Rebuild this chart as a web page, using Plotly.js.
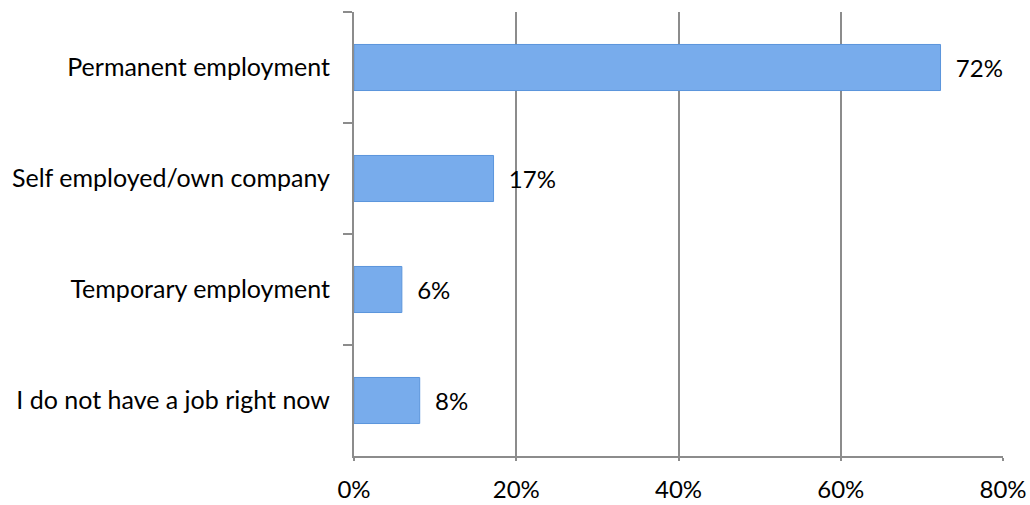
<!DOCTYPE html>
<html><head><meta charset="utf-8">
<script src="https://cdn.plot.ly/plotly-3.0.1.min.js"></script>
<style>html,body{margin:0;padding:0;background:#fff;}#chart{width:1030px;height:505px;}</style>
</head><body><div id="chart"></div>
<script>
const categories = ["Permanent employment", "Self employed/own company", "Temporary employment", "I do not have a job right now"];
const values = [0.723, 0.172, 0.059, 0.081];
const valueLabels = ["72%", "17%", "6%", "8%"];
const xTickVals = [0, 0.2, 0.4, 0.6, 0.8];
const xTickText = ["0%", "20%", "40%", "60%", "80%"];

const font = "Lato, 'Open Sans', sans-serif";
const trace = {
  type: "bar", orientation: "h",
  x: values, y: categories,
  text: valueLabels.map(t => "\u00a0\u00a0" + t),
  textposition: "outside", cliponaxis: false,
  textfont: {family: font, size: 24, color: "#000"},
  marker: {color: "#78acec", line: {color: "#5b95dc", width: 1}},
  hoverinfo: "none"
};
const layout = {
  width: 1030, height: 505,
  margin: {l: 354, r: 27, t: 12, b: 49},
  paper_bgcolor: "#fff", plot_bgcolor: "#fff",
  bargap: 0.585, showlegend: false,
  font: {family: font, size: 24, color: "#000"},
  xaxis: {range: [0, 0.8], tickvals: xTickVals, ticktext: xTickText,
    showgrid: true, gridcolor: "#8c8c8c", gridwidth: 2,
    showline: true, linecolor: "#8c8c8c", linewidth: 2,
    ticks: "outside", ticklen: 3, tickcolor: "#8c8c8c", tickwidth: 2,
    ticklabelstandoff: 8,
    zeroline: false, tickfont: {family: font, size: 24, color: "#000"}},
  yaxis: {autorange: "reversed", type: "category",
    showline: true, linecolor: "#8c8c8c", linewidth: 2,
    ticks: "outside", tickson: "boundaries", ticklen: 9, tickcolor: "#8c8c8c", tickwidth: 2,
    showgrid: false, ticklabelstandoff: 17,
    tickfont: {family: font, size: 25, color: "#000"}}
};
Plotly.newPlot("chart", [trace], layout, {staticPlot: true});
</script></body></html>
